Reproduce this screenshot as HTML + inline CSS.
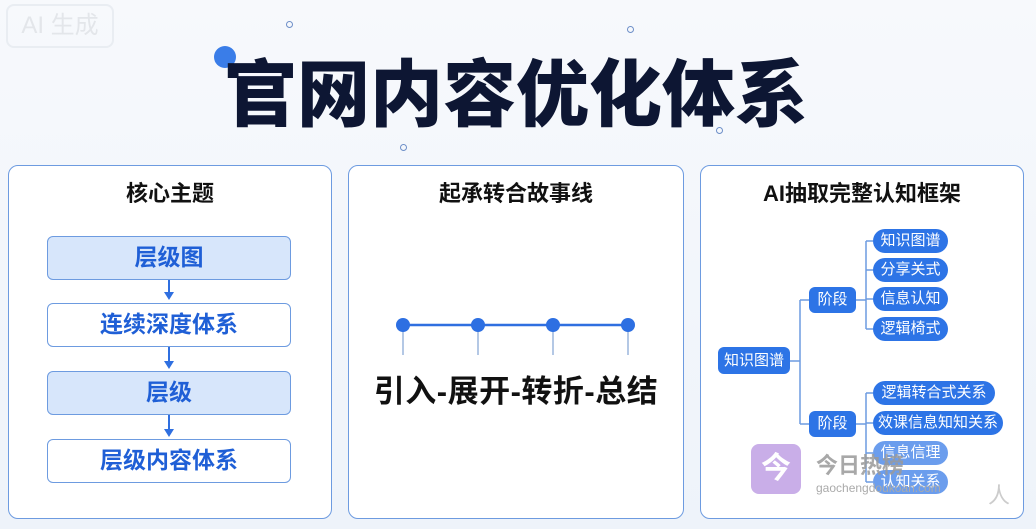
<!DOCTYPE html>
<html><head><meta charset="utf-8"><style>
*{margin:0;padding:0;box-sizing:border-box}
body{width:1036px;height:529px;overflow:hidden;background:linear-gradient(180deg,#f7f9fc,#eef3fa);font-family:"Liberation Sans","Noto Sans CJK SC",sans-serif;position:relative}
.a{position:absolute}
.panel{position:absolute;top:165px;height:354px;background:#fff;border:1.5px solid #6d9be0;border-radius:10px}
.ph{position:absolute;left:0;right:0;top:176px;text-align:center;font-size:22px;font-weight:bold;color:#111;line-height:36px}
.box{position:absolute;left:47px;width:244px;height:44px;border:1.5px solid #6d9be0;border-radius:6px;color:#1f5fd6;font-size:23px;font-weight:bold;text-align:center;line-height:41px}
.f{background:#d7e6fb}
.arr{position:absolute;left:168px;width:2px;background:#2f6fe0}
.tri{position:absolute;left:164px;width:0;height:0;border-left:5px solid transparent;border-right:5px solid transparent;border-top:8px solid #2f6fe0}
.n{position:absolute;background:#2d74e6;color:#fff;font-size:15px;line-height:24px;height:24px;text-align:center;border-radius:12px}
.r{border-radius:6px}
</style></head><body>
<div class="a" style="left:6px;top:4px;width:108px;height:44px;border:2px solid #e9edf2;border-radius:8px;color:#e3e6ea;font-size:24px;line-height:40px;text-align:center">AI 生成</div>
<div class="a" style="left:214px;top:46px;width:22px;height:22px;border-radius:50%;background:#3a7de8"></div>
<div class="a" style="left:286px;top:21px;width:7px;height:7px;border-radius:50%;border:1.5px solid #6d8fc8"></div>
<div class="a" style="left:627px;top:26px;width:7px;height:7px;border-radius:50%;border:1.5px solid #6d8fc8"></div>
<div class="a" style="left:400px;top:144px;width:7px;height:7px;border-radius:50%;border:1.5px solid #6d8fc8"></div>
<div class="a" style="left:716px;top:127px;width:7px;height:7px;border-radius:50%;border:1.5px solid #6d8fc8"></div>
<div class="a" style="left:224px;top:53px;width:600px;font-size:73px;font-weight:900;color:#0d1633;line-height:86px;letter-spacing:0px">官网内容优化体系</div>

<div class="panel" style="left:8px;width:324px"></div>
<div class="panel" style="left:348px;width:336px"></div>
<div class="panel" style="left:700px;width:324px"></div>
<div class="ph" style="left:8px;width:324px">核心主题</div>
<div class="ph" style="left:348px;width:336px">起承转合故事线</div>
<div class="ph" style="left:700px;width:324px">AI抽取完整认知框架</div>

<div class="box f" style="top:236px">层级图</div>
<div class="arr" style="top:280px;height:13px"></div><div class="tri" style="top:292px"></div>
<div class="box" style="top:303px">连续深度体系</div>
<div class="arr" style="top:347px;height:14px"></div><div class="tri" style="top:361px"></div>
<div class="box f" style="top:371px">层级</div>
<div class="arr" style="top:415px;height:14px"></div><div class="tri" style="top:429px"></div>
<div class="box" style="top:439px">层级内容体系</div>

<svg class="a" style="left:0;top:0" width="1036" height="529">
<line x1="403" y1="325" x2="628" y2="325" stroke="#2f6fe0" stroke-width="2.5"/>
<g stroke="#9bb5dc" stroke-width="1.5"><line x1="403" y1="325" x2="403" y2="355"/><line x1="478" y1="325" x2="478" y2="355"/><line x1="553" y1="325" x2="553" y2="355"/><line x1="628" y1="325" x2="628" y2="355"/></g>
<g fill="#2d6fe2"><circle cx="403" cy="325" r="7"/><circle cx="478" cy="325" r="7"/><circle cx="553" cy="325" r="7"/><circle cx="628" cy="325" r="7"/></g>
<g stroke="#6d9be0" stroke-width="1.5" fill="none">
<path d="M790 361 H800 M800 300 V424 M800 300 H809 M800 424 H809"/>
<path d="M856 300 H866 M866 241 V329 M866 241 H873 M866 270 H873 M866 299 H873 M866 329 H873"/>
<path d="M856 424 H866 M866 393 V482 M866 393 H873 M866 423 H873 M866 453 H873 M866 482 H873"/>
</g>
</svg>
<div class="a" style="left:348px;top:366px;width:336px;text-align:center;font-size:31px;font-weight:bold;color:#111;letter-spacing:0.5px">引入-展开-转折-总结</div>

<div class="n r" style="left:718px;top:347px;width:72px;height:27px;line-height:27px">知识图谱</div>
<div class="n r" style="left:809px;top:287px;width:47px;height:26px;line-height:26px">阶段</div>
<div class="n r" style="left:809px;top:411px;width:47px;height:26px;line-height:26px">阶段</div>
<div class="n" style="left:873px;top:229px;width:75px">知识图谱</div>
<div class="n" style="left:873px;top:258px;width:75px">分享关式</div>
<div class="n" style="left:873px;top:287px;width:75px">信息认知</div>
<div class="n" style="left:873px;top:317px;width:75px">逻辑椅式</div>
<div class="n" style="left:873px;top:381px;width:122px">逻辑转合式关系</div>
<div class="n" style="left:873px;top:411px;width:130px">效课信息知知关系</div>
<div class="n" style="left:873px;top:441px;width:75px;opacity:.7">信息信理</div>
<div class="n" style="left:873px;top:470px;width:75px;opacity:.7">认知关系</div>

<div class="a" style="left:751px;top:444px;width:50px;height:50px;border-radius:8px;background:#c9aee8;color:#fff;font-size:30px;font-weight:bold;text-align:center;line-height:50px">今</div>
<div class="a" style="left:816px;top:448px;font-size:22px;font-weight:bold;color:#9a9a9a;opacity:.85">今日热榜</div>
<div class="a" style="left:816px;top:481px;font-size:12px;color:#aaa">gaochengdoukoan.com</div>
<div class="a" style="left:988px;top:478px;font-size:22px;color:#ccc">人</div>
</body></html>
